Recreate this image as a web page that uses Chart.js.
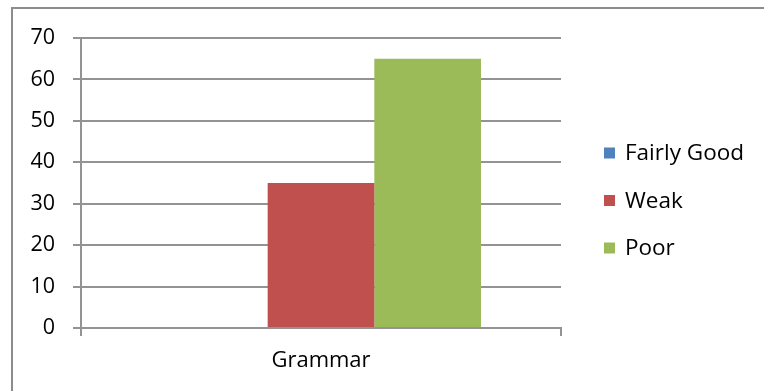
<!DOCTYPE html>
<html>
<head>
<meta charset="utf-8">
<script src="https://cdn.jsdelivr.net/npm/chart.js@4/dist/chart.umd.min.js"></script>
<style>
  html, body { margin: 0; padding: 0; background: #fff; }
  #wrap { width: 764px; height: 391px; }
</style>
</head>
<body>
<div id="wrap"><canvas id="chart" width="764" height="391"></canvas></div>
<script>
// Ratings for the grammar section
const categories = ['Grammar'];
const seriesNames = ['Fairly Good', 'Weak', 'Poor'];
const fairlyGood = [0];
const weak = [35];
const poor = [65];
const yTicks = [0, 10, 20, 30, 40, 50, 60, 70];

const seriesColors = ['#4F81BD', '#C0504D', '#9BBB59'];
const gridColor = '#939393';
const fontFamily = '"Open Sans", "Noto Sans", sans-serif';

// Frame around the chart area
const framePlugin = {
  id: 'frame',
  beforeDraw(chart) {
    const ctx = chart.ctx;
    ctx.save();
    ctx.strokeStyle = '#8c8c8c';
    ctx.lineWidth = 2;
    ctx.strokeRect(12, 8, 900, 600);
    ctx.restore();
  }
};

// Legend column at the right side, built from the datasets
const sideLegend = {
  id: 'sideLegend',
  afterDraw(chart) {
    const ctx = chart.ctx;
    const x = 604, box = 11, gap = 47.5, firstY = 153;
    ctx.save();
    ctx.font = '22.5px ' + fontFamily;
    ctx.textBaseline = 'middle';
    ctx.textAlign = 'left';
    chart.data.datasets.forEach((ds, i) => {
      const cy = firstY + i * gap;
      ctx.fillStyle = ds.backgroundColor;
      ctx.fillRect(x, cy - box / 2, box, box);
      ctx.fillStyle = '#000';
      ctx.fillText(ds.label, x + 21, cy + 1);
    });
    ctx.restore();
  }
};

const data = {
  labels: categories,
  datasets: [
    { label: seriesNames[0], data: fairlyGood, backgroundColor: seriesColors[0] },
    { label: seriesNames[1], data: weak, backgroundColor: seriesColors[1] },
    { label: seriesNames[2], data: poor, backgroundColor: seriesColors[2] }
  ]
};

new Chart(document.getElementById('chart'), {
  type: 'bar',
  data,
  plugins: [framePlugin, sideLegend],
  options: {
    responsive: false,
    devicePixelRatio: 1,
    animation: false,
    layout: { padding: { top: 38, right: 203, left: 0, bottom: 0 } },
    datasets: { bar: { categoryPercentage: 2 / 3, barPercentage: 1 } },
    plugins: { legend: { display: false }, tooltip: { enabled: false } },
    scales: {
      x: {
        grid: { display: true, drawOnChartArea: false, drawTicks: true, tickLength: 8, color: gridColor, lineWidth: 2, offset: true },
        border: { color: gridColor, width: 2 },
        ticks: { color: '#000', font: { family: fontFamily, size: 22 }, padding: 12 },
        afterFit(s) { s.height = 63; }
      },
      y: {
        min: 0,
        max: 70,
        afterBuildTicks(s) { s.ticks = yTicks.map(v => ({ value: v })); },
        grid: { color: gridColor, lineWidth: 2, tickLength: 8 },
        border: { color: gridColor, width: 2 },
        ticks: { color: '#000', font: { family: fontFamily, size: 21.5 }, padding: 18 },
        afterFit(s) { s.width = 81; }
      }
    }
  }
});
</script>
</body>
</html>
